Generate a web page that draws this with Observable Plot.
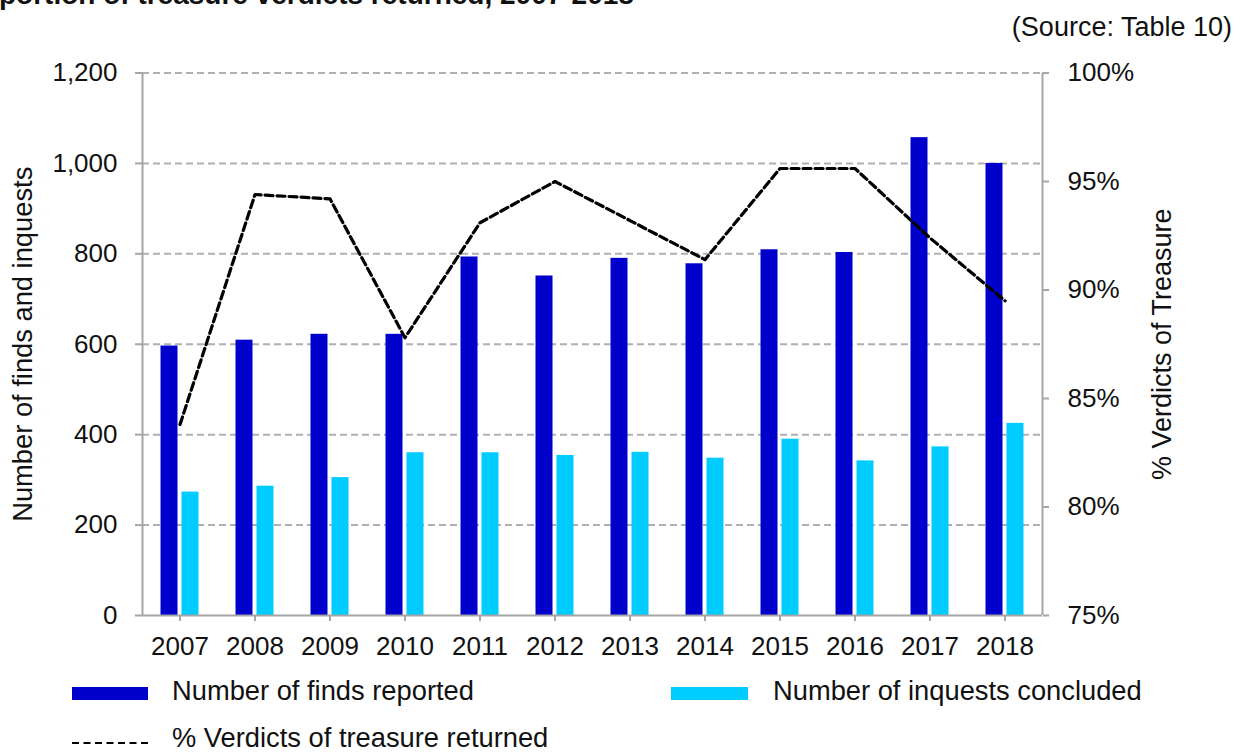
<!DOCTYPE html>
<html>
<head>
<meta charset="utf-8">
<script src="https://cdn.jsdelivr.net/npm/d3@7"></script>
<script src="https://cdn.jsdelivr.net/npm/@observablehq/plot@0.6"></script>
<style>
  body { margin: 0; background: #fff; font-family: "Liberation Sans", Arial, sans-serif; color: #111; }
  #wrap { position: relative; width: 1236px; height: 752px; overflow: hidden; }
  #title { position: absolute; left: -1px; top: -19px; font-weight: bold; font-size: 28px; line-height: 28px; white-space: nowrap; }
  #source { position: absolute; right: 4px; top: 13px; font-size: 27px; line-height: 28px; white-space: nowrap; }
  #chart { position: absolute; left: 0; top: 50px; }
  .sw { position: absolute; }
  .lt { position: absolute; font-size: 27.3px; line-height: 30px; white-space: nowrap; }
</style>
</head>
<body>
<div id="wrap">
  <div id="title">portion of treasure verdicts returned, 2007-2018</div>
  <div id="source">(Source: Table 10)</div>
  <div id="chart"></div>
  <div class="sw" style="left:72px;top:687px;width:76px;height:13px;background:#0000cc"></div>
  <div class="lt" style="left:172px;top:676px">Number of finds reported</div>
  <div class="sw" style="left:671px;top:687px;width:77px;height:13px;background:#00ccff"></div>
  <div class="lt" style="left:773px;top:676px">Number of inquests concluded</div>
  <svg class="sw" style="left:72px;top:738px" width="78" height="10"><line x1="0" y1="5" x2="76" y2="5" stroke="#000" stroke-width="2" stroke-dasharray="7,4.5"/></svg>
  <div class="lt" style="left:172px;top:723px">% Verdicts of treasure returned</div>
</div>
<script>
const years = ["2007","2008","2009","2010","2011","2012","2013","2014","2015","2016","2017","2018"];
const findsReported = [596, 609, 622, 622, 793, 751, 790, 778, 809, 803, 1057, 1000];
const inquestsConcluded = [273, 286, 305, 360, 360, 354, 361, 348, 390, 342, 373, 425];
const verdictsPct = [83.8, 94.4, 94.2, 87.8, 93.1, 95.0, 93.2, 91.4, 95.6, 95.6, 92.4, 89.5];
const countTicks = [0, 200, 400, 600, 800, 1000, 1200];
const pctTicks = [75, 80, 85, 90, 95, 100];

const toCount = p => (p - 75) / 25 * 1200;
const toPct = c => c / 1200 * 25 + 75;

const finds = years.map((year, i) => ({year, value: findsReported[i]}));
const inquests = years.map((year, i) => ({year, value: inquestsConcluded[i]}));
const verdicts = years.map((year, i) => ({year, pct: verdictsPct[i]}));

const axisStroke = "#a6a6a6";
const font = '"Liberation Sans", Arial, sans-serif';

const chart = Plot.plot({
  width: 1236,
  height: 620,
  marginLeft: 142,
  marginRight: 194,
  marginTop: 22.5,
  marginBottom: 55,
  style: {fontFamily: font, fontSize: "26px", color: "#111", background: "transparent", overflow: "visible"},
  x: {type: "band", domain: years, paddingInner: 0.779, paddingOuter: 0.3895, align: 0.5},
  y: {domain: [0, 1200]},
  marks: [
    Plot.gridY(countTicks.slice(1), {stroke: "#b0b0b0", strokeOpacity: 1, strokeWidth: 2, strokeDasharray: "7,4"}),
    Plot.barY(finds, {x: "year", y: "value", fill: "#0000cc", dx: -10.5}),
    Plot.barY(inquests, {x: "year", y: "value", fill: "#00ccff", dx: 10.5}),
    Plot.ruleY([0], {stroke: axisStroke, strokeWidth: 2}),
    Plot.ruleX([years[0]], {y1: 0, y2: 1200, dx: -37.5, stroke: axisStroke, strokeWidth: 2}),
    Plot.ruleX([years[years.length - 1]], {y1: 0, y2: 1200, dx: 37.5, stroke: axisStroke, strokeWidth: 2}),
    Plot.lineY(verdicts, {x: "year", y: d => toCount(d.pct), stroke: "#000", strokeWidth: 3.2, strokeDasharray: "8,4"}),
    Plot.axisY(countTicks, {anchor: "left", tickSize: 7, tickPadding: 18, stroke: axisStroke, strokeWidth: 2, fontSize: 26, tickFormat: d3.format(","), label: null}),
    Plot.axisY(pctTicks.map(toCount), {anchor: "right", tickSize: 6, tickPadding: 19, stroke: axisStroke, strokeWidth: 2, fontSize: 26, tickFormat: v => Math.round(toPct(v)) + "%", label: null}),
    Plot.axisX({anchor: "bottom", tickSize: 6, tickPadding: 15, stroke: axisStroke, strokeWidth: 2, fontSize: 26, label: null}),
    Plot.text(["Number of finds and inquests"], {frameAnchor: "left", textAnchor: "middle", rotate: -90, dx: -119, fontSize: 27.3, fill: "#111"}),
    Plot.text(["% Verdicts of Treasure"], {frameAnchor: "right", textAnchor: "middle", rotate: -90, dx: 120, fontSize: 27, fill: "#111"})
  ]
});
document.getElementById("chart").appendChild(chart);
</script>
</body>
</html>
